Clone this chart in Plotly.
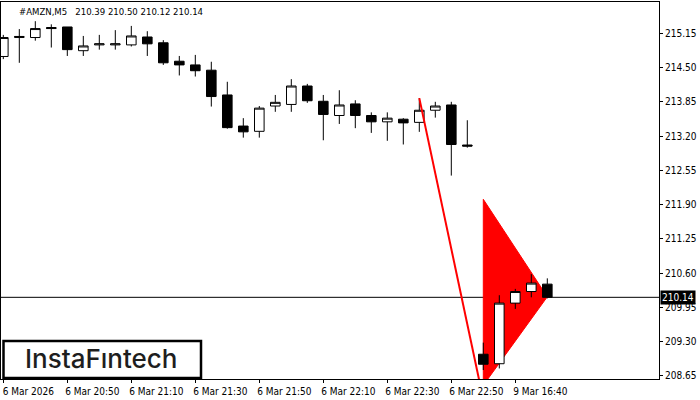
import plotly.graph_objects as go

# ---------------- data ----------------
bar_index = list(range(35))
opens = [214.71, 215.07, 215.07, 215.26, 215.27, 214.82, 214.93, 214.93, 214.93, 215.08,
         214.97, 214.62, 214.55, 214.45, 213.98, 213.39, 213.29, 213.77, 213.80, 214.15,
         213.86, 213.59, 213.81, 213.59, 213.47, 213.52, 213.46, 213.69, 213.79, 213.03,
         209.06, 208.88, 210.03, 210.25, 210.39]
highs = [215.12, 215.23, 215.38, 215.32, 215.27, 215.10, 215.12, 215.21, 215.29, 215.19,
         215.02, 214.72, 214.74, 214.61, 214.23, 213.54, 213.77, 213.98, 214.28, 214.19,
         213.98, 214.07, 213.88, 213.65, 213.65, 213.54, 213.92, 213.85, 213.85, 213.50,
         209.28, 210.18, 210.30, 210.58, 210.50]
lows = [214.66, 214.59, 215.01, 214.88, 214.72, 214.72, 214.84, 214.84, 214.90, 214.72,
        214.55, 214.35, 214.33, 213.76, 213.34, 213.17, 213.17, 213.66, 213.66, 213.83,
        213.12, 213.43, 213.35, 213.26, 213.11, 213.04, 213.28, 213.55, 212.45, 212.98,
        208.76, 208.79, 209.92, 210.14, 210.12]
closes = [215.07, 215.09, 215.24, 215.24, 214.84, 214.91, 214.95, 214.95, 215.10, 214.95,
          214.59, 214.55, 214.44, 213.95, 213.36, 213.28, 213.73, 213.84, 214.15, 213.87,
          213.61, 213.79, 213.59, 213.47, 213.54, 213.45, 213.69, 213.77, 213.04, 213.01,
          208.87, 210.03, 210.25, 210.41, 210.14]

x_tick_index = [0, 4, 8, 12, 16, 20, 24, 28, 32]
x_tick_labels = ["6 Mar 2026", "6 Mar 20:50", "6 Mar 21:10", "6 Mar 21:30", "6 Mar 21:50",
                 "6 Mar 22:10", "6 Mar 22:30", "6 Mar 22:50", "9 Mar 16:40"]
y_tick_values = [215.15, 214.50, 213.85, 213.20, 212.55, 211.90, 211.25, 210.60, 209.95, 209.30, 208.65]
y_tick_labels = ["%.2f" % v for v in y_tick_values]

current_price = 210.14
symbol_label = "#AMZN,M5"
last_ohlc = [210.39, 210.50, 210.12, 210.14]

# pattern (bearish pennant): pole and triangle
pole_x = [26, 30]
pole_y = [213.92, 208.20]
pennant_x = [30, 34, 30]
pennant_y = [212.00, 210.15, 208.47]

# ---------------- layout geometry ----------------
W, H = 700, 400
ML, MR, MT, MB = 1, 41, 2, 21
PW, PH = W - ML - MR, H - MT - MB
X_START = -0.144
X_END = X_START + PW / 16.0
Y_TOP = 215.744
Y_BOT = 208.590

FONT = "DejaVu Sans Condensed, DejaVu Sans, Liberation Sans, sans-serif"

def px_x(px):
    return (px - ML) / PW

def px_y(py):
    return (H - MB - py) / PH

fig = go.Figure()

fig.add_trace(go.Candlestick(
    x=bar_index, open=opens, high=highs, low=lows, close=closes,
    increasing=dict(fillcolor="white", line=dict(color="black", width=1)),
    decreasing=dict(fillcolor="black", line=dict(color="black", width=1)),
    whiskerwidth=0, hoverinfo="skip", showlegend=False,
))

fig.add_trace(go.Scatter(
    x=pole_x, y=pole_y, mode="lines",
    line=dict(color="#ff0000", width=2), hoverinfo="skip", showlegend=False,
))

path = "M " + " L ".join("%s,%s" % (a, b) for a, b in zip(pennant_x, pennant_y)) + " Z"
shapes = [
    dict(type="path", path=path, xref="x", yref="y", layer="below",
         fillcolor="#ff0000", line=dict(color="#ff0000", width=1)),
    dict(type="line", xref="paper", yref="y", x0=0, x1=1, y0=current_price, y1=current_price,
         layer="below", line=dict(color="black", width=1)),
    dict(type="rect", xref="paper", yref="paper",
         x0=px_x(3.5), x1=px_x(201), y0=px_y(378), y1=px_y(341),
         fillcolor="white", line=dict(color="black", width=2.5), layer="above"),
]

header_text = symbol_label + "\u00a0\u00a0 " + " ".join("%.2f" % v for v in last_ohlc)

annotations = [
    dict(text=header_text, xref="paper", yref="paper", x=px_x(16.5), y=px_y(11.5),
         xanchor="left", yanchor="middle", showarrow=False,
         font=dict(family=FONT, size=9.5, color="black")),
    dict(text="%.2f" % current_price, xref="paper", yref="y", x=1, y=current_price,
         xanchor="left", yanchor="middle", xshift=1, showarrow=False,
         bgcolor="black", borderpad=1,
         font=dict(family=FONT, size=10, color="white")),
    dict(text="InstaF\u0131ntech", xref="paper", yref="paper", x=px_x(101.5), y=px_y(358),
         xanchor="center", yanchor="middle", showarrow=False,
         font=dict(family="Inter, Lato, sans-serif", size=26, color="#1e1e1e", weight=500)),
]

fig.update_layout(
    width=W, height=H,
    margin=dict(l=ML, r=MR, t=MT, b=MB, pad=0),
    paper_bgcolor="white", plot_bgcolor="white",
    boxgap=0.4, boxgroupgap=0,
    showlegend=False,
    shapes=shapes, annotations=annotations,
    xaxis=dict(
        type="linear", range=[X_START, X_END], rangeslider=dict(visible=False),
        showgrid=False, zeroline=False, showline=True, linecolor="black", linewidth=1,
        mirror=True, ticks="outside", ticklen=3, tickcolor="black",
        tickvals=x_tick_index, ticktext=x_tick_labels, ticklabelshift=25,
        tickfont=dict(family=FONT, size=10, color="black"),
    ),
    yaxis=dict(
        range=[Y_BOT, Y_TOP], side="right",
        showgrid=False, zeroline=False, showline=True, linecolor="black", linewidth=1,
        mirror=True, ticks="outside", ticklen=3, tickcolor="black",
        tickvals=y_tick_values, ticktext=y_tick_labels,
        tickfont=dict(family=FONT, size=10, color="black"),
    ),
)

fig.write_html("out.html",
               config={"displayModeBar": False, "staticPlot": True},
               post_script="document.body.style.margin='0';document.body.style.overflow='hidden';")
